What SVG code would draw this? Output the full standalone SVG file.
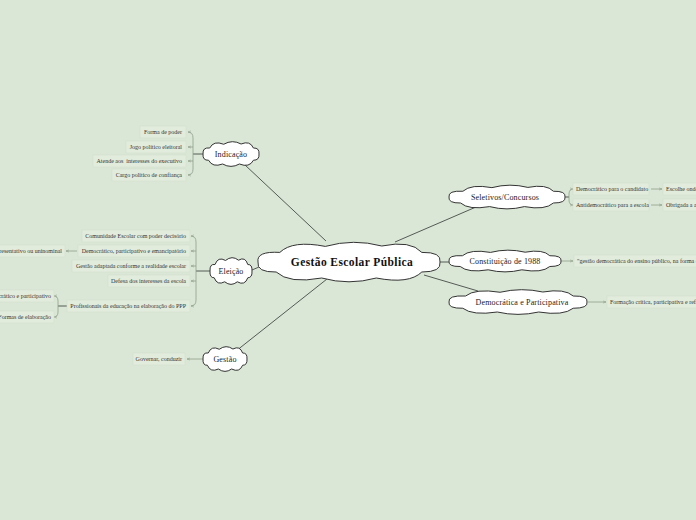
<svg xmlns="http://www.w3.org/2000/svg" width="696" height="520" viewBox="0 0 696 520">
<style>
.bg{fill:#dae7d6}
.cloud{fill:#ffffff;stroke:#333333;stroke-width:1}
.main{stroke:#555a55;stroke-width:1;fill:none}
.br{stroke:#8f9f8c;stroke-width:0.8;fill:none}
.box{fill:#e1ecdd;stroke:#d2dfce;stroke-width:0.6}
.lt{font-family:"Liberation Serif","DejaVu Serif",serif;font-size:6px;fill:#333333}
.nt{font-family:"Liberation Serif","DejaVu Serif",serif;font-size:8px;fill:#222222;letter-spacing:0.15px}
.ct{font-family:"Liberation Serif","DejaVu Serif",serif;font-size:11.5px;font-weight:bold;fill:#111111;letter-spacing:0.4px}
</style>
<defs>
<path id="cl" vector-effect="non-scaling-stroke" d="M -1 0 Q -1.02 -0.55 -0.76 -0.48 Q -0.62 -1.1 -0.26 -0.78 Q 0.05 -1.18 0.36 -0.8 Q 0.68 -1.1 0.8 -0.48 Q 1.02 -0.5 1 0 Q 1.02 0.5 0.8 0.5 Q 0.66 1.12 0.3 0.8 Q 0 1.18 -0.3 0.8 Q -0.66 1.1 -0.8 0.5 Q -1.02 0.52 -1 0 Z"/>
<marker id="ah" viewBox="0 0 6 6" refX="6" refY="3" markerWidth="4" markerHeight="4" orient="auto">
<path d="M0 0.8 L6 3 L0 5.2" fill="none" stroke="#8f9f8c" stroke-width="1"/>
</marker>
</defs>
<rect class="bg" x="0" y="0" width="696" height="520"/>

<g id="connectors">
<path class="main" d="M326 241 L245 165"/>
<path class="main" d="M259 267 L252 270"/>
<path class="main" d="M327 279 L236 351"/>
<path class="main" d="M395 242 L476 207"/>
<path class="main" d="M436 262 L449 262"/>
<path class="main" d="M424 275 L478 291"/>
<path class="main" d="M203 154 H193"/>
<path class="br" d="M193 138 Q193 132 188 132" marker-end="url(#ah)"/>
<path class="br" d="M193 138 V169"/>
<path class="br" d="M193 169 Q193 175 188 175" marker-end="url(#ah)"/>
<path class="br" d="M193 147 H188" marker-end="url(#ah)"/>
<path class="br" d="M193 161 H188" marker-end="url(#ah)"/>
<path class="main" d="M210 271 H196"/>
<path class="br" d="M196 242 Q196 236 191 236" marker-end="url(#ah)"/>
<path class="br" d="M196 242 V300"/>
<path class="br" d="M196 300 Q196 306 191 306" marker-end="url(#ah)"/>
<path class="br" d="M196 251 H191" marker-end="url(#ah)"/>
<path class="br" d="M196 266 H191" marker-end="url(#ah)"/>
<path class="br" d="M196 281 H191" marker-end="url(#ah)"/>
<path class="br" d="M77 251 H66" marker-end="url(#ah)"/>
<path class="main" d="M67 306 H58"/>
<path class="br" d="M58 301 Q58 296 54 296" marker-end="url(#ah)"/>
<path class="br" d="M58 301 V312"/>
<path class="br" d="M58 312 Q58 317 54 317" marker-end="url(#ah)"/>
<path class="br" d="M203 359 H187" marker-end="url(#ah)"/>
<path class="main" d="M565 197 H569"/>
<path class="br" d="M569 194 Q569 189 573 189" marker-end="url(#ah)"/>
<path class="br" d="M569 194 V200"/>
<path class="br" d="M569 200 Q569 205 573 205" marker-end="url(#ah)"/>
<path class="br" d="M651 189 H662" marker-end="url(#ah)"/>
<path class="br" d="M651 205 H662" marker-end="url(#ah)"/>
<path class="br" d="M561 261 H573" marker-end="url(#ah)"/>
<path class="br" d="M588 302 H606" marker-end="url(#ah)"/>
</g>

<g id="central">
<use href="#cl" class="cloud" transform="translate(349 262) scale(91 20)"/>
<text class="ct" x="352" y="266" text-anchor="middle">Gestão Escolar Pública</text>
</g>

<g id="indicacao">
<use href="#cl" class="cloud" transform="translate(231 154) scale(28 12.5)"/>
<text class="nt" x="231" y="157" text-anchor="middle">Indicação</text>
</g>
<g id="ind-1"><rect class="box" x="140" y="126" width="46" height="12"/><text class="lt" x="182" y="134" text-anchor="end">Forma de poder</text></g>
<g id="ind-2"><rect class="box" x="126" y="141" width="60" height="12"/><text class="lt" x="182" y="149" text-anchor="end">Jogo político eleitoral</text></g>
<g id="ind-3"><rect class="box" x="93" y="155" width="93" height="12"/><text class="lt" x="182" y="163" text-anchor="end" xml:space="preserve">Atende aos  interesses do executivo</text></g>
<g id="ind-4"><rect class="box" x="112" y="169" width="74" height="12"/><text class="lt" x="182" y="177" text-anchor="end">Cargo político de confiança</text></g>

<g id="eleicao">
<use href="#cl" class="cloud" transform="translate(231 271) scale(21 13.5)"/>
<text class="nt" x="231" y="274" text-anchor="middle">Eleição</text>
</g>
<g id="ele-1"><rect class="box" x="82" y="230" width="108" height="12"/><text class="lt" x="186" y="238" text-anchor="end">Comunidade Escolar com poder decisório</text></g>
<g id="ele-2"><rect class="box" x="78" y="245" width="112" height="12"/><text class="lt" x="186" y="253" text-anchor="end">Democrático, participativo e emancipatório</text></g>
<g id="ele-2a"><rect class="box" x="-20" y="245" width="85" height="12"/><text class="lt" x="62" y="253" text-anchor="end">Representativo ou uninominal</text></g>
<g id="ele-3"><rect class="box" x="72" y="260" width="118" height="12"/><text class="lt" x="186" y="268" text-anchor="end">Gestão adaptada conforme a realidade escolar</text></g>
<g id="ele-4"><rect class="box" x="108" y="275" width="82" height="12"/><text class="lt" x="186" y="283" text-anchor="end">Defesa dos interesses da escola</text></g>
<g id="ele-5"><rect class="box" x="67" y="300" width="123" height="12"/><text class="lt" x="186" y="308" text-anchor="end">Profissionais da educação na elaboração do PPP</text></g>
<g id="ele-5a"><rect class="box" x="-30" y="290" width="84" height="12"/><text class="lt" x="51" y="298" text-anchor="end">Democrático e participativo</text></g>
<g id="ele-5b"><rect class="box" x="-10" y="311" width="64" height="12"/><text class="lt" x="51" y="319" text-anchor="end">Formas de elaboração</text></g>

<g id="gestao">
<use href="#cl" class="cloud" transform="translate(225 359) scale(22 12.5)"/>
<text class="nt" x="225" y="362" text-anchor="middle">Gestão</text>
</g>
<g id="ges-1"><rect class="box" x="133" y="353" width="52" height="12"/><text class="lt" x="182" y="361" text-anchor="end">Governar, conduzir</text></g>

<g id="seletivos">
<use href="#cl" class="cloud" transform="translate(507 197) scale(58 12)"/>
<text class="nt" x="505" y="200" text-anchor="middle">Seletivos/Concursos</text>
</g>
<g id="sel-1"><rect class="box" x="573" y="183" width="76" height="12"/><text class="lt" x="576" y="191">Democrático para o candidato</text></g>
<g id="sel-1a"><rect class="box" x="663" y="183" width="60" height="12"/><text class="lt" x="666" y="191">Escolhe onde trabalhar</text></g>
<g id="sel-2"><rect class="box" x="573" y="199" width="76" height="12"/><text class="lt" x="576" y="207">Antidemocrático para a escola</text></g>
<g id="sel-2a"><rect class="box" x="663" y="199" width="80" height="12"/><text class="lt" x="666" y="207">Obrigada a aceitar o profissional</text></g>

<g id="constituicao">
<use href="#cl" class="cloud" transform="translate(505 261) scale(56 11)"/>
<text class="nt" x="505" y="264" text-anchor="middle">Constituição de 1988</text>
</g>
<g id="con-1"><rect class="box" x="574" y="255" width="180" height="12"/><text class="lt" x="577" y="263">"gestão democrática do ensino público, na forma da lei"</text></g>

<g id="democratica">
<use href="#cl" class="cloud" transform="translate(518 302) scale(69 12.5)"/>
<text class="nt" x="522" y="305" text-anchor="middle">Democrática e Participativa</text>
</g>
<g id="dem-1"><rect class="box" x="607" y="296" width="120" height="12"/><text class="lt" x="610" y="304">Formação crítica, participativa e reflexiva</text></g>
</svg>
